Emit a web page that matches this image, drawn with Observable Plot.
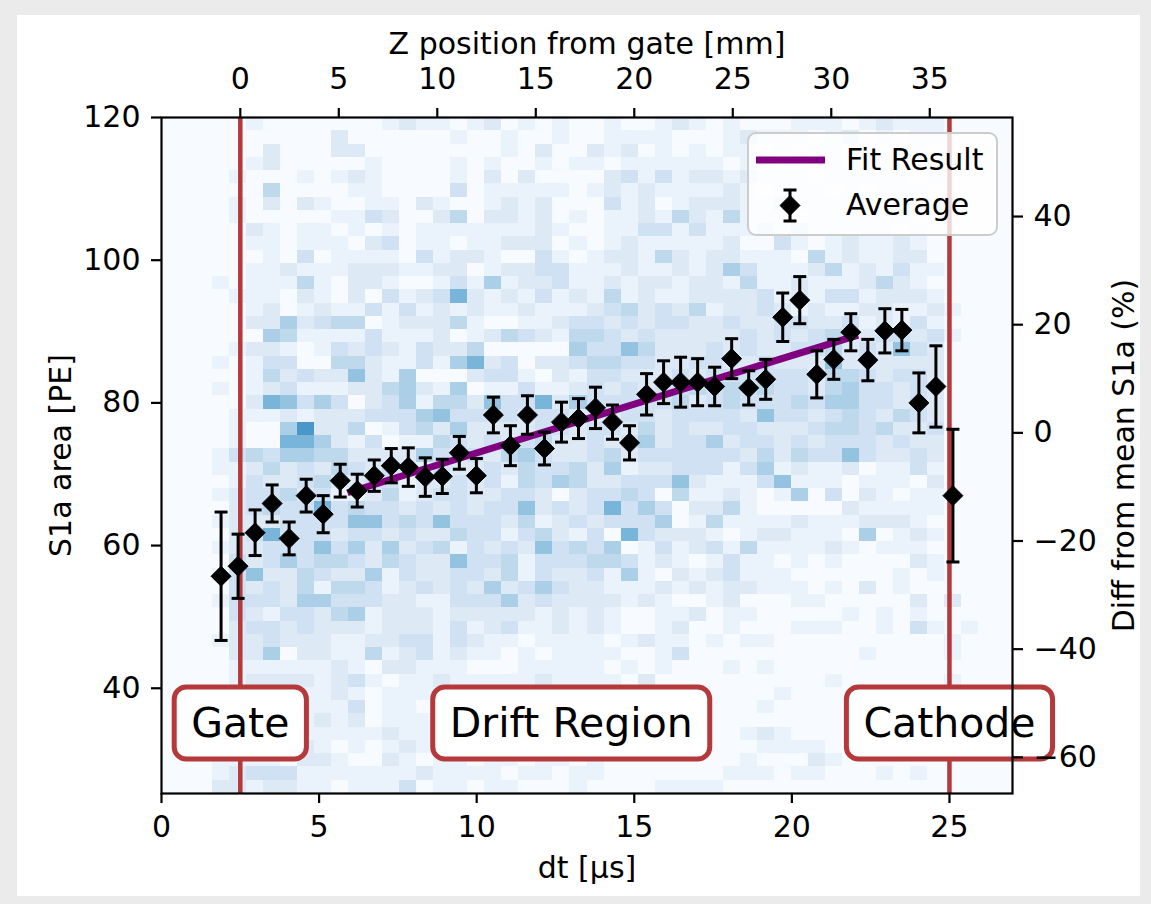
<!DOCTYPE html>
<html><head><meta charset="utf-8">
<script src="https://cdn.jsdelivr.net/npm/d3@7"></script>
<script src="https://cdn.jsdelivr.net/npm/@observablehq/plot@0.6"></script>
<style>
html,body{margin:0;padding:0;}
body{width:1151px;height:904px;background:#ebebeb;position:relative;overflow:hidden;font-family:"DejaVu Sans",sans-serif;}
#panel{position:absolute;left:17px;top:15px;width:1123px;height:881px;background:#fff;}
#chart{position:absolute;left:0;top:0;}
</style></head><body>
<div id="panel"></div><div id="chart"></div>
<script>
// ---- 2D histogram counts (rows top->bottom, S1a 120 -> 25.25; cols dt 0 -> 27)
// segments: cols 0-3 | 4-25 | 26-45 | 46-49
const histRows = [
"0000|0100000001211012010100|10012101000111012111|0000",
"0000|0000002000000100100100|11110001211101201011|0000",
"0000|0020002200000000102002|12010101101011010010|0000",
"0000|0120000010000101001011|01111110101101011110|0000",
"0000|1000101210000102020000|23131221211101111101|0000",
"0000|0040000110000301111101|21211112101110101110|0000",
"0000|1020210011021001212000|31201222112111110101|0000",
"0000|1000001132002402212010|11214214111011111101|0000",
"0000|0210110101011111112100|11331311121211111010|0000",
"0000|0110111023011011222010|12111112003101211210|0000",
"0000|0010301111031221003101|22142122111041211220|0000",
"0000|0112111222112201223311|12112125311124121311|0000",
"0001|0111410221001315122311|21221221411211124210|0000",
"0000|1110210203123721213121|41211222231213312221|0000",
"0000|0120121131312121121112|34232412232121122112|1000",
"0000|0225234401222410011233|23233223223322312131|0000",
"0000|0054111131112012432144|32322222323234223323|1000",
"0000|1221013232132240000053|36422232322334232632|0000",
"0001|0133004421131572302234|43322332232226222222|0000",
"0000|0142322621500023310213|32223233333324432332|0000",
"0001|0123111224521501131123|23233434343324533232|0000",
"0000|0276353023514426337253|33334234333435533232|0000",
"0000|1112122233356333323322|23323333263323432432|0000",
"0000|1005922401342522223323|32423223322234434223|0000",
"0000|1007752130114323234223|23523352332323332322|0000",
"0001|3435544222253232453223|42333333242433632232|0000",
"0001|1242324323213223243342|51223331351211201131|0000",
"0000|1322342233122323143542|23336211136111011102|0000",
"0001|2334231124123322332023|34304112101503021011|0000",
"0000|2343373433232323362323|73530224100000211111|0000",
"0001|2223333663436333241232|33350141111211122210|0000",
"0000|2373332332322433134213|07322210122111050121|0000",
"0001|2233363525234132326343|50131231411112101110|0000",
"0000|3235344324322633413334|43121013110101000021|0000",
"0001|3622432251322332413223|15102123111000000101|0000",
"0000|3232414431232325235322|11121212211101020100|0000",
"0001|3332553332211333523222|21210012000110000020|2000",
"0000|3213324512221222221212|10011201100000101010|0000",
"0000|2332322212221312311212|10012001000111001031|0100",
"0001|2232221122331321101111|01211010110000000000|1000",
"0000|2250221141231211010111|10013000000000010000|1000",
"0000|1111112102211100011111|01010001010000000000|0000",
"0000|1222212310112111112111|10200000000001000000|1000",
"0000|1111112101111111111111|10000000001000000000|0000",
"0000|1111111301101111101101|00000000010000000000|0000",
"0000|1111121201111011110111|00000000000000000000|0000",
"0000|1111111112111101111101|00000000121000000000|0000",
"0000|1111210101211110111110|00000000011110000000|0000",
"0001|1110221002101101101101|00000000100021000000|0000",
"0001|2333111111121111011011|00000001110110001010|0000",
"0002|2122110111301101100010|00011110000000000000|0000"
];
const segStarts = [0, 4, 26, 46];
const xBinCount = 50, dtRange = [0, 27];
const yBinCount = 51, s1aRange = [25.25, 120];

// ---- Averages per dt bin
const avgDt  = [1.89,2.43,2.97,3.51,4.05,4.59,5.13,5.67,6.21,6.75,7.29,7.83,8.37,8.91,9.45,9.99,10.53,11.07,11.61,12.15,12.69,13.23,13.77,14.31,14.85,15.39,15.93,16.47,17.01,17.55,18.09,18.63,19.17,19.71,20.25,20.79,21.33,21.87,22.41,22.95,23.49,24.03,24.57,25.11];
const avgS1a = [55.7,57.1,61.8,65.9,61.0,67.0,64.4,69.1,67.7,69.8,71.2,71.0,69.6,69.7,73.0,69.8,78.3,74.0,78.3,73.6,77.3,77.8,79.3,77.3,74.4,81.2,82.9,82.9,82.9,82.3,86.2,82.1,83.3,92.0,94.4,84.0,86.1,89.9,86.0,90.1,90.2,80.0,82.3,67.0];
const avgErr = [9.0,4.5,3.2,2.6,2.3,2.3,2.6,2.3,2.3,2.2,2.4,2.7,2.7,2.4,2.3,2.4,2.5,2.8,2.7,2.3,2.8,2.8,2.9,2.4,2.4,2.9,3.0,3.5,3.3,2.7,2.8,2.4,2.8,3.4,3.3,3.3,2.8,2.6,2.9,3.1,2.9,4.2,5.7,9.3];

// ---- Fit result (end points)
const fitDt  = [5.9, 22.1];
const fitS1a = [67.4, 89.5];

// ---- Detector geometry / secondary axes
const gateDt = 2.5, cathodeDt = 25.0;
const driftVelocity = 1.6;   // mm per µs
const meanS1a = 75.8;
const xTicks = [0, 5, 10, 15, 20, 25];
const yTicks = [40, 60, 80, 100, 120];
const zTicks = [0, 5, 10, 15, 20, 25, 30, 35];
const pctTicks = [-60, -40, -20, 0, 20, 40];

// ---- Region labels
const regionText = ["Gate", "Drift Region", "Cathode"];
const regionDt   = [2.5, 13.0, 25.0];
const regionS1a  = [35, 35, 35];

// ---------------------------------------------------------------
const RED = "#b5383b", PURPLE = "#800080";
const xw = (dtRange[1] - dtRange[0]) / xBinCount;
const yh = (s1aRange[1] - s1aRange[0]) / yBinCount;
const cells = [];
histRows.forEach((row, r) => {
  row.split("|").forEach((seg, s) => {
    for (let k = 0; k < seg.length; k++) {
      const c = segStarts[s] + k, n = +seg[k];
      if (n > 0 && c < xBinCount) cells.push({
        x1: dtRange[0] + c * xw, x2: dtRange[0] + (c + 1) * xw,
        y2: s1aRange[1] - r * yh, y1: s1aRange[1] - (r + 1) * yh, n
      });
    }
  });
});
const avg = avgDt.map((x, i) => ({x, y: avgS1a[i], lo: avgS1a[i] - avgErr[i], hi: avgS1a[i] + avgErr[i]}));
const fit = fitDt.map((x, i) => ({x, y: fitS1a[i]}));
const regions = regionText.map((t, i) => ({t, x: regionDt[i], y: regionS1a[i]}));
const fmt = v => (v < 0 ? "\u2212" + Math.abs(v) : String(v));
const capSymbol = {draw(ctx, size) { const w = Math.sqrt(size / Math.PI); ctx.moveTo(-w, 0); ctx.lineTo(w, 0); }};

const chart = Plot.plot({
  width: 1151, height: 904,
  marginLeft: 161, marginRight: 139, marginTop: 117, marginBottom: 111,
  style: {fontFamily: "DejaVu Sans", fontSize: "30px", background: "transparent", color: "black", overflow: "visible"},
  x: {domain: dtRange},
  y: {domain: s1aRange},
  color: {type: "linear", domain: [0, 15], scheme: "blues"},
  marks: [
    Plot.frame({fill: "#f7fbff"}),
    Plot.rect(cells, {x1: "x1", x2: "x2", y1: "y1", y2: "y2", fill: "n", shapeRendering: "crispEdges"}),
    Plot.ruleX([gateDt, cathodeDt], {stroke: RED, strokeWidth: 4.5}),
    Plot.line(fit, {x: "x", y: "y", stroke: PURPLE, strokeWidth: 7, strokeLinecap: "butt"}),
    Plot.ruleX(avg, {x: "x", y1: "lo", y2: "hi", stroke: "black", strokeWidth: 3}),
    Plot.dot(avg, {x: "x", y: "lo", symbol: capSymbol, r: 6.5, stroke: "black", strokeWidth: 3, fill: "none"}),
    Plot.dot(avg, {x: "x", y: "hi", symbol: capSymbol, r: 6.5, stroke: "black", strokeWidth: 3, fill: "none"}),
    Plot.dot(avg, {x: "x", y: "y", symbol: "diamond2", r: 9, fill: "black", stroke: "black", strokeWidth: 1}),
    Plot.text(regions, {x: "x", y: "y", text: "t", fontSize: 41, lineAnchor: "middle", textAnchor: "middle", fill: "black"}),
    Plot.frame({stroke: "black", strokeWidth: 2.2}),
    Plot.axisX({anchor: "bottom", ticks: xTicks, tickSize: 10, tickPadding: 12, strokeWidth: 2.2, label: null}),
    Plot.axisX({anchor: "top", ticks: zTicks.map(z => gateDt + z / driftVelocity),
      tickFormat: d => fmt(Math.round((d - gateDt) * driftVelocity)), tickSize: 10, tickPadding: 19, strokeWidth: 2.2, label: null}),
    Plot.axisY({anchor: "left", ticks: yTicks, tickSize: 10, tickPadding: 11, strokeWidth: 2.2, label: null}),
    Plot.axisY({anchor: "right", ticks: pctTicks.map(p => meanS1a * (1 + p / 100)),
      tickFormat: d => fmt(Math.round((d / meanS1a - 1) * 100)), tickSize: 10, tickPadding: 11, strokeWidth: 2.2, label: null}),
    Plot.text(["dt [µs]"], {frameAnchor: "bottom", dy: 63, lineAnchor: "top", textAnchor: "middle"}),
    Plot.text(["Z position from gate [mm]"], {frameAnchor: "top", dy: -64, lineAnchor: "bottom", textAnchor: "middle"}),
    Plot.text(["S1a area [PE]"], {frameAnchor: "left", dx: -91, rotate: -90, lineAnchor: "bottom", textAnchor: "middle"}),
    Plot.text(["Diff from mean S1a (%)"], {frameAnchor: "right", dx: 121, rotate: -90, lineAnchor: "bottom", textAnchor: "middle"})
  ]
});
document.getElementById("chart").appendChild(chart);

// boxes behind region labels
const svg = d3.select(chart);
svg.selectAll("text").filter(function() { return regionText.includes(this.textContent); }).each(function() {
  const b = this.getBBox();
  d3.select(this.parentNode).insert("rect", () => this)
    .attr("transform", this.getAttribute("transform"))
    .attr("x", b.x - 17).attr("y", b.y - 12)
    .attr("width", b.width + 34).attr("height", b.height + 24)
    .attr("rx", 12).attr("fill", "white").attr("stroke", RED).attr("stroke-width", 5);
});

// legend
const lg = svg.append("g").attr("font-family", "DejaVu Sans").attr("font-size", 30).attr("text-anchor", "start");
lg.append("rect").attr("x", 748).attr("y", 133).attr("width", 249).attr("height", 102).attr("rx", 8)
  .attr("fill", "white").attr("fill-opacity", 0.8).attr("stroke", "#cccccc").attr("stroke-width", 2);
lg.append("line").attr("x1", 756).attr("x2", 825).attr("y1", 160).attr("y2", 160)
  .attr("stroke", PURPLE).attr("stroke-width", 7);
lg.append("text").attr("x", 846).attr("y", 170).attr("text-anchor", "start").attr("fill", "black").text("Fit Result");
lg.append("line").attr("x1", 790).attr("x2", 790).attr("y1", 190).attr("y2", 221).attr("stroke", "black").attr("stroke-width", 3);
lg.append("line").attr("x1", 783.5).attr("x2", 796.5).attr("y1", 190).attr("y2", 190).attr("stroke", "black").attr("stroke-width", 3);
lg.append("line").attr("x1", 783.5).attr("x2", 796.5).attr("y1", 221).attr("y2", 221).attr("stroke", "black").attr("stroke-width", 3);
lg.append("path").attr("transform", "translate(790,205.5)").attr("d", d3.symbol(d3.symbolDiamond2, Math.PI * 81)())
  .attr("fill", "black").attr("stroke", "black");
lg.append("text").attr("x", 846).attr("y", 215).attr("text-anchor", "start").attr("fill", "black").text("Average");
</script>
</body></html>
